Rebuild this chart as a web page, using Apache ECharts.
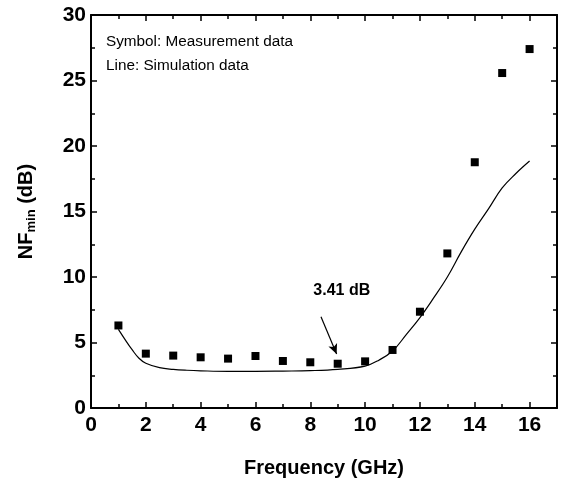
<!DOCTYPE html>
<html>
<head>
<meta charset="utf-8">
<script src="https://cdn.jsdelivr.net/npm/echarts@6/dist/echarts.min.js"></script>
<style>
  html, body { margin: 0; padding: 0; background: #fff; }
  #chart { width: 566px; height: 489px; }
</style>
</head>
<body>
<div id="chart"></div>
<script>
// measured NFmin (symbols)
var measFreq = [1, 2, 3, 4, 5, 6, 7, 8, 9, 10, 11, 12, 13, 14, 15, 16];
var measNF = [6.3, 4.15, 4.0, 3.87, 3.77, 3.97, 3.59, 3.49, 3.38, 3.56, 4.43, 7.35, 11.8, 18.76, 25.57, 27.4];

// simulated NFmin (line)
var simFreq = [1, 1.25, 1.5, 1.75, 2, 2.5, 3, 3.5, 4, 5, 6, 7, 8, 9, 10, 10.5, 11, 11.5, 12, 12.5, 13, 13.5, 14, 14.5, 15, 15.5, 16];
var simNF = [6.0, 5.2, 4.45, 3.8, 3.42, 3.08, 2.95, 2.88, 2.84, 2.8, 2.8, 2.82, 2.85, 2.95, 3.2, 3.65, 4.35, 5.6, 6.9, 8.4, 10.0, 11.9, 13.65, 15.2, 16.8, 17.9, 18.85];

// annotation
var noteText = '3.41 dB';
var notePos = [9.15, 9.0];
var arrowFrom = [8.39, 6.97];
var arrowTo = [8.96, 4.12];

var xTicks = [0, 2, 4, 6, 8, 10, 12, 14, 16];
var yTicks = [0, 5, 10, 15, 20, 25, 30];

var FONT = '"Liberation Sans", Arial, sans-serif';

function zip(a, b) {
    var out = [];
    for (var i = 0; i < a.length; i++) out.push([a[i], b[i]]);
    return out;
}

var chart = echarts.init(document.getElementById('chart'));

var axisLine = { show: true, onZero: false, lineStyle: { color: '#000', width: 2 } };
var tick = { show: true, inside: true, length: 6, lineStyle: { color: '#000', width: 1.5 } };
var minor = { show: true, splitNumber: 2, length: 4, lineStyle: { color: '#000', width: 1.5 } };

var option = {
    backgroundColor: '#fff',
    animation: false,
    textStyle: { fontFamily: FONT },
    grid: { left: 91, right: 9, top: 15, bottom: 81 },
    graphic: [
        { type: 'text', left: 106, top: 34, style: { text: 'Symbol: Measurement data', font: '15.3px ' + FONT, fill: '#000' } },
        { type: 'text', left: 106, top: 58, style: { text: 'Line: Simulation data', font: '15.3px ' + FONT, fill: '#000' } }
    ],
    xAxis: [
        {
            type: 'value', min: 0, max: 17, interval: 2,
            axisLine: axisLine, axisTick: tick, minorTick: minor,
            splitLine: { show: false },
            axisLabel: {
                color: '#000', fontSize: 21, fontWeight: 'bold', fontFamily: FONT, margin: 7,
                formatter: function (v) { return xTicks.indexOf(v) >= 0 ? String(v) : ''; }
            },
            name: 'Frequency (GHz)', nameLocation: 'middle', nameGap: 50,
            nameTextStyle: { color: '#000', fontSize: 20, fontWeight: 'bold', fontFamily: FONT }
        },
        {
            type: 'value', min: 0, max: 17, interval: 2, position: 'top',
            axisLine: axisLine, axisTick: tick, minorTick: minor,
            splitLine: { show: false }, axisLabel: { show: false }
        }
    ],
    yAxis: [
        {
            type: 'value', min: 0, max: 30, interval: 5,
            axisLine: axisLine, axisTick: tick, minorTick: minor,
            splitLine: { show: false },
            axisLabel: {
                color: '#000', fontSize: 21, fontWeight: 'bold', fontFamily: FONT, margin: 5,
                formatter: function (v) { return yTicks.indexOf(v) >= 0 ? String(v) : ''; }
            },
            name: 'NF{sub|min} (dB)', nameLocation: 'middle', nameGap: 53, nameRotate: 90,
            nameTextStyle: {
                color: '#000', fontSize: 20, fontWeight: 'bold', fontFamily: FONT,
                rich: {
                    sub: { fontSize: 13, fontWeight: 'bold', fontFamily: FONT, color: '#000', padding: [11, 0, 0, 0] }
                }
            }
        },
        {
            type: 'value', min: 0, max: 30, interval: 5, position: 'right',
            axisLine: axisLine, axisTick: tick, minorTick: minor,
            splitLine: { show: false }, axisLabel: { show: false }
        }
    ],
    series: [
        {
            name: 'Simulation',
            type: 'line',
            data: zip(simFreq, simNF),
            smooth: 0.4,
            showSymbol: false,
            lineStyle: { color: '#000', width: 1.2 },
            markLine: {
                silent: true,
                symbol: ['none', 'arrow'],
                symbolSize: [7, 10],
                label: { show: false },
                lineStyle: { color: '#000', width: 1.2, type: 'solid' },
                data: [[{ coord: arrowFrom }, { coord: arrowTo }]]
            },
            markPoint: {
                silent: true,
                symbol: 'rect',
                symbolSize: 1,
                itemStyle: { color: 'rgba(0,0,0,0)' },
                label: {
                    show: true, position: 'inside', formatter: noteText,
                    color: '#000', fontSize: 16, fontWeight: 'bold', fontFamily: FONT
                },
                data: [{ coord: notePos }]
            }
        },
        {
            name: 'Measurement',
            type: 'scatter',
            data: zip(measFreq, measNF),
            symbol: 'rect',
            symbolSize: 8,
            itemStyle: { color: '#000', opacity: 1 }
        }
    ]
};

chart.setOption(option);
</script>
</body>
</html>
